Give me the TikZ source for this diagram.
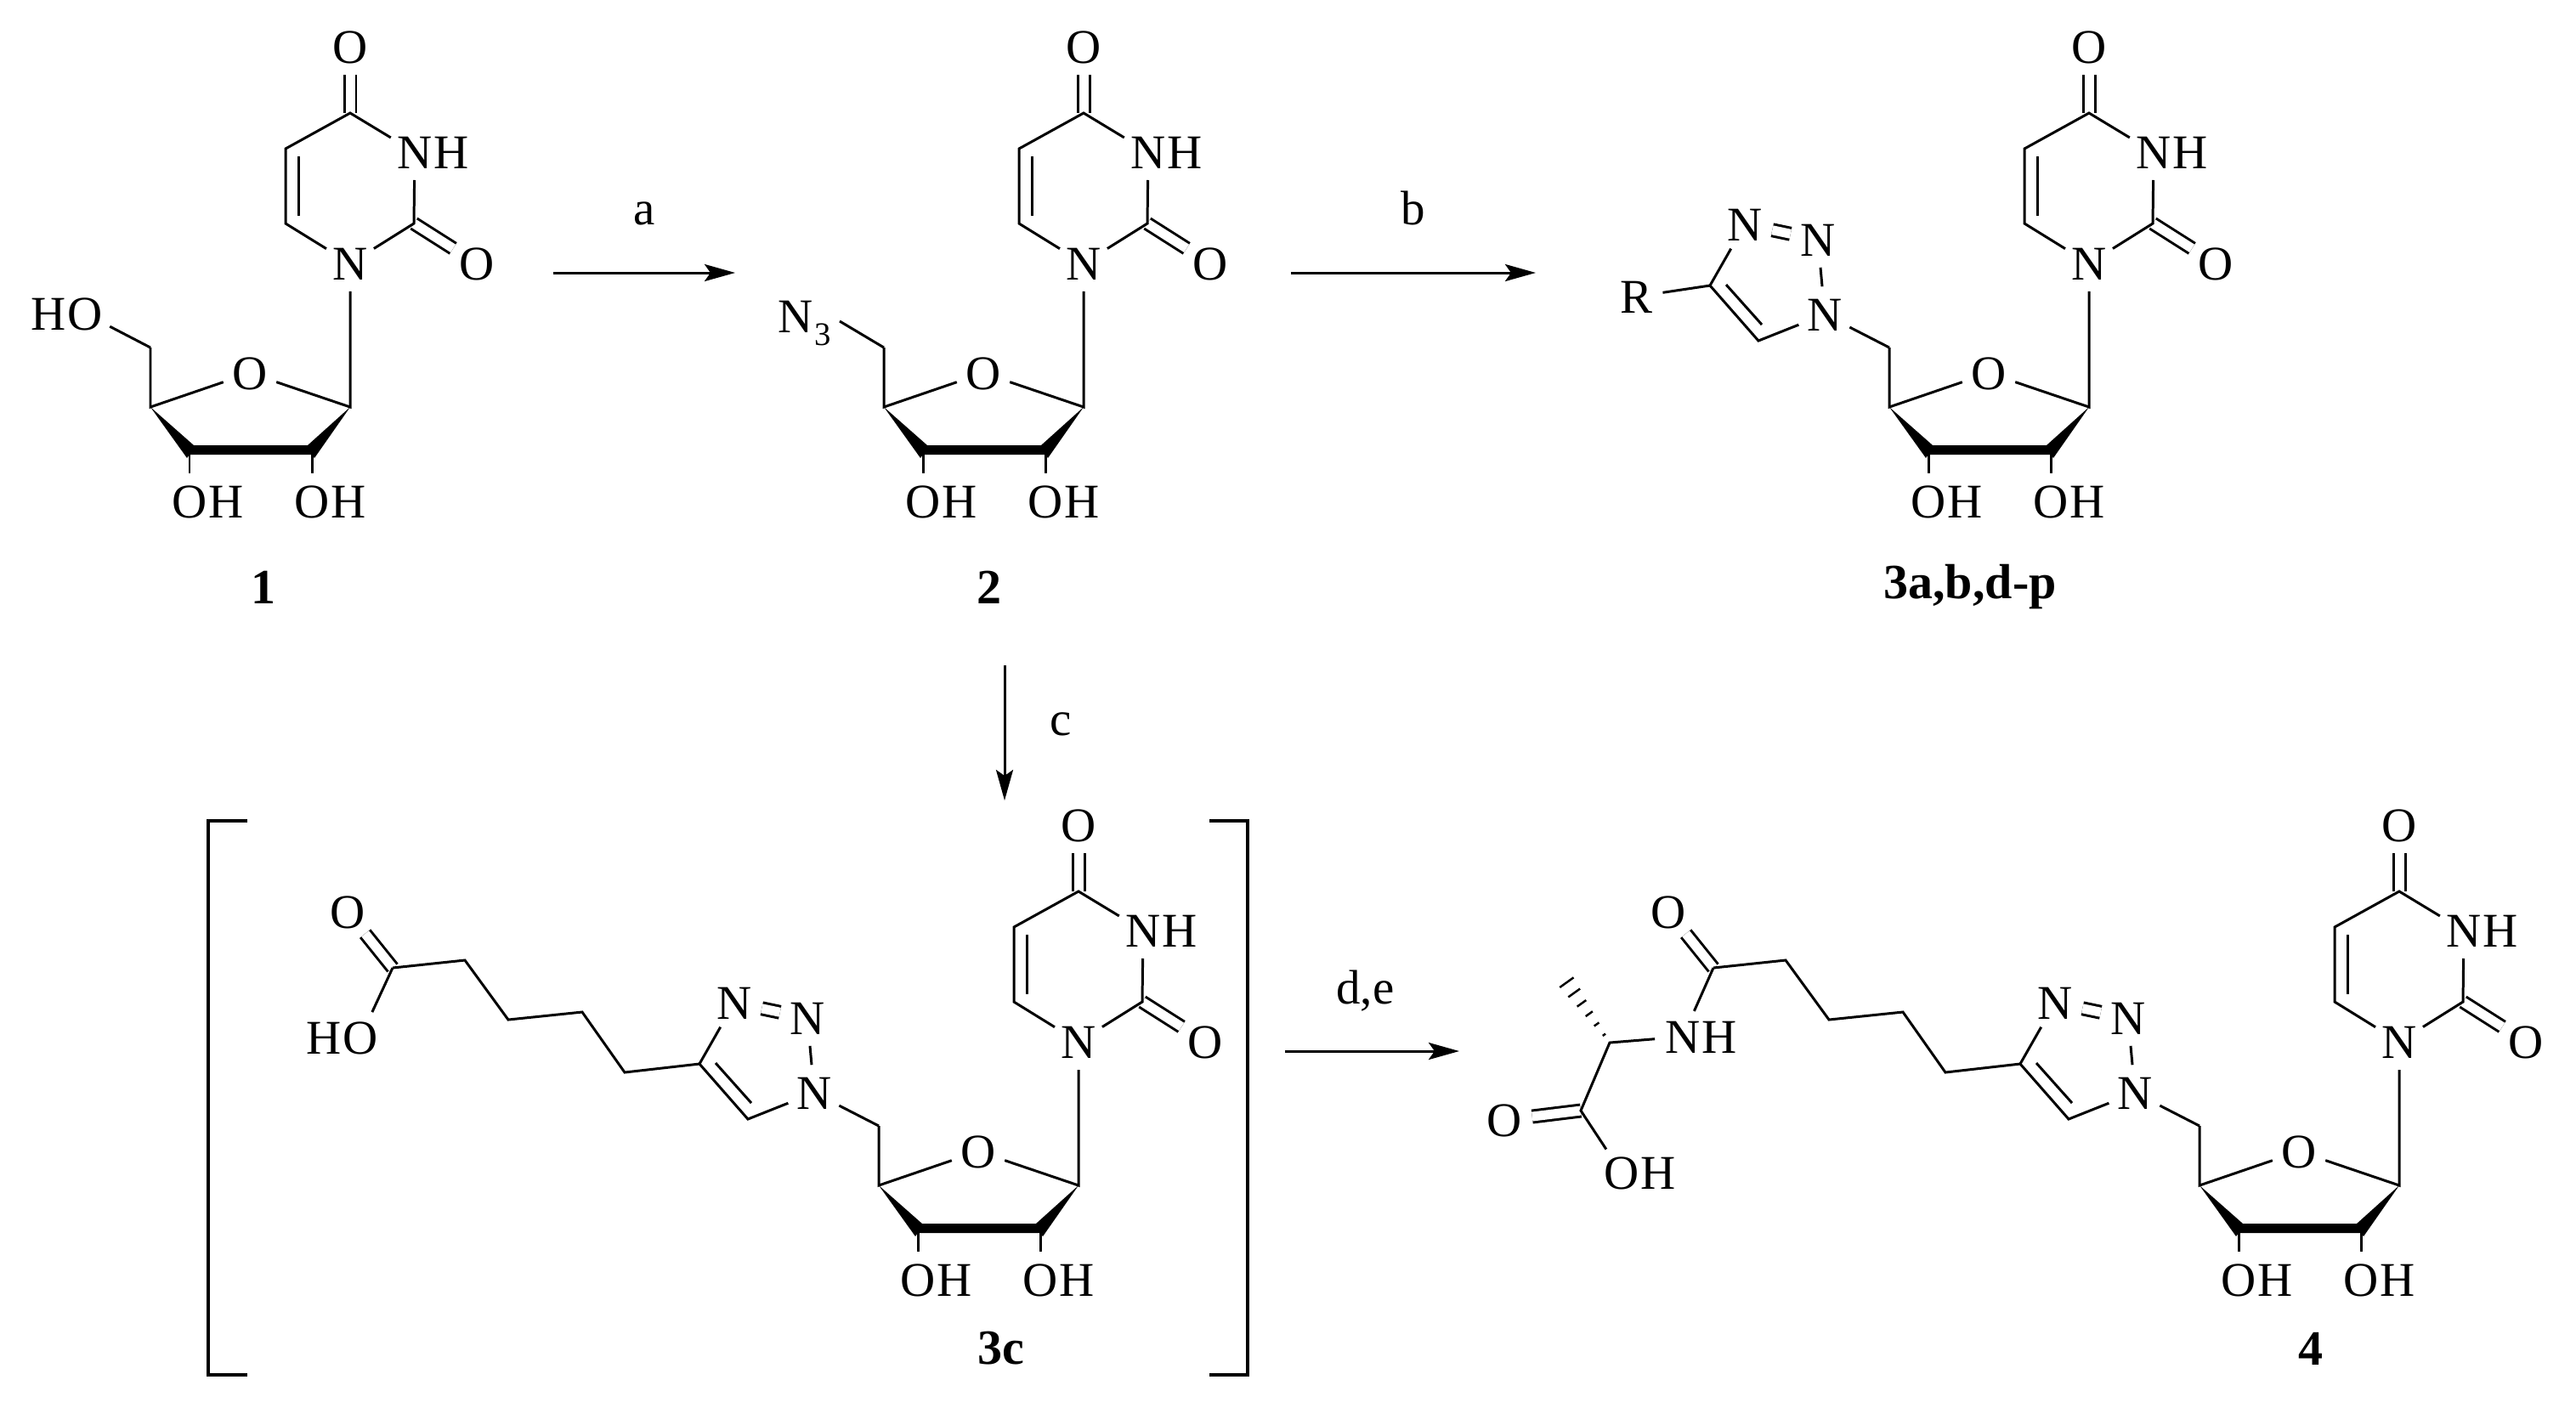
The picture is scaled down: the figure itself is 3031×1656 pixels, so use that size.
\documentclass[tikz,border=0pt]{standalone}
\usepackage{fontspec}
\setmainfont{Liberation Serif}
\usetikzlibrary{positioning,calc,arrows.meta}

\newcommand{\uridine}{
	%Doppelbindungen
	\coordinate (c4) at (0,-346);
	\coordinate (c5) at (-76,-304);
	\coordinate (c6) at (-76,-216);
	\coordinate (c5i) at (-61,-295);
	\coordinate (c6i) at (-61,-225);
	\coordinate (c2) at (75,-216);
	\coordinate (c1p) at (0,0);
	\coordinate (c4p) at (-235,0);
	\coordinate (c3p) at (-189,52);
	\coordinate (c2p) at (-45,52);
	\coordinate (c5p) at (-235,-70);
	\node[atom] (n1) at (0,-169) {N};
	\node[atom] (n3) at (76,-300) {N};
	\node[hatom, right=-0.115cm of n3] (h3) {H};
	\node[atom] (o4) at (0,-424) {O};
	\node[atom] (o2) at (149,-169) {O};
	\node[atom] (o4p) at (-118,-40) {O};
	\node[atom] (o3p) at (-189,111) {O};
	\node[hatom, right=-0.115cm of o3p] (h3p) {H};
	\node[atom] (o2p) at (-45,111) {O};
	\node[hatom, right=-0.115cm of o2p] (h2p) {H};
	\draw[dbond] (c4) -- (o4);
	\draw[dbond] (c2) -- (o2);
	\draw[bond] (n3) -- (c4) -- (c5) -- (c6) -- (n1) -- (c2) -- (n3);
	\draw[bond] (c5i) -- (c6i);
	\draw[bond] (n1) -- (c1p) -- (o4p) -- (c4p) -- (c5p);
	%Keile
	\fill ([shift={(5,-7)}]c3p) -- ([shift={(-5,-7)}]c2p) -- (c1p) -- ([shift={(3,8)}]c2p) -- ([shift={(0,4)}]c2p) -- ([shift={(0,4)}]c3p) -- ([shift={(-3,8)}]c3p) -- (c4p) -- cycle;
	\draw[bond] (c3p) -- (o3p);
	\draw[bond] (c2p) -- (o2p);
}

\newcommand{\triazole}{
	\coordinate (c4t) at (-446,-143);
	\coordinate (c5t) at (-389,-78);
	\coordinate (c4i) at (-427,-144);
	\coordinate (c5i) at (-385,-97);
	\node[atom] (n1t) at (-311,-109) {N};
	\node[atom] (n2t) at (-319,-197) {N};
	\node[atom] (n3t) at (-405,-215) {N};
	\draw[bond] (c5p) -- (n1t) -- (n2t);
	\draw[bond] (n1t) -- (c5t) -- (c4t) -- (n3t);
	\draw[bond] (c4i) -- (c5i);
	\draw[dbond, double distance=0.11cm, yshift=-0.05cm] (n3t) -- (n2t);
}

\newcommand{\pentyl}{
	\coordinate (k1) at (-534,-133);
	\coordinate (k2) at (-584,-204);
	\coordinate (k3) at (-671,-195);
	\coordinate (k4) at (-722,-265);
	\coordinate (k5) at (-807,-256);
	\node[atom] (ok) at (-860,-322) {O};
	\draw[dbond] (k5) -- (ok);
	\draw[bond] (c4t) -- (k1) -- (k2) -- (k3) -- (k4) -- (k5);
}

\begin{document}
\begin{tikzpicture}
	[
	x=0.01cm, y=-0.01cm, font=\fontsize{16.2}{19}\selectfont, >={Stealth[length=0.36cm, width=0.2cm, inset=0.07cm]},
	bond/.style={line width=0.85pt},
	dbond/.style={line width=0.85pt, double, double distance=0.11cm},
	atom/.style={circle, inner sep=0.03cm, text height=10.8pt, text depth=0pt},
	hatom/.style={inner sep=0pt, text height=10.8pt, text depth=0pt},
	rxn/.style={line width=0.85pt, ->},
	cmpd/.style={font=\fontsize{16.5}{19}\selectfont\bfseries, inner sep=0pt},
	cond/.style={inner sep=0pt}
	]
	\useasboundingbox (0,0) rectangle (3031,1656);

	%m1
	\begin{scope}[shift={(412,479)}, name prefix=m1-]
		\uridine
		\node[atom] (o5p) at (-312,-110) {O};
		\node[hatom, left=-0.115cm of o5p] (h5p) {H};
		\draw[bond] (c5p) -- (o5p);
	\end{scope}
	\node[cmpd] (lab1) at (310,691) {1};

	%m2
	\begin{scope}[shift={(1275,479)}, name prefix=m2-]
		\uridine
		\node[hatom, anchor=west] (n5p) at (-360,-107) {N};
		\node[hatom, font=\fontsize{11}{13}\selectfont, text height=7.5pt] (s5p) at (-307,-86) {3};
		\coordinate (n5e) at (-287,-101);
		\draw[bond] (c5p) -- (n5e);
	\end{scope}
	\node[cmpd] (lab2) at (1164,691) {2};

	%m3
	\begin{scope}[shift={(2458,479)}, name prefix=m3-]
		\uridine
		\triazole
		\node[atom] (r) at (-533,-130) {R};
		\draw[bond] (r) -- (c4t);
	\end{scope}
	\node[cmpd] (lab3) at (2318,691) {3a,b,d-p};

	%m3c
	\begin{scope}[shift={(1269,1395)}, name prefix=m3c-]
		\uridine
		\triazole
		\pentyl
		\node[atom] (oh) at (-845,-174) {O};
		\node[hatom, left=-0.115cm of oh] (hh) {H};
		\draw[bond] (k5) -- (oh);
	\end{scope}
	\node[cmpd] (lab3c) at (1178,1587) {3c};

	%m4
	\begin{scope}[shift={(2823,1395)}, name prefix=m4-]
		\uridine
		\triazole
		\pentyl
		\coordinate (ca) at (-929,-168);
		\coordinate (me) at (-984,-245);
		\coordinate (cc) at (-963,-88);
		\node[atom] (nh) at (-843,-175) {N};
		\node[hatom, right=-0.115cm of nh] (hn) {H};
		\node[atom] (oc) at (-1053,-77) {O};
		\node[atom] (oh) at (-915,-15) {O};
		\node[hatom, right=-0.115cm of oh] (hh) {H};
		\draw[dbond] (cc) -- (oc);
		\draw[bond] (k5) -- (nh) -- (ca) -- (cc) -- (oh);
		%Schraffur
		\foreach \t/\w in {0.12/0.02, 0.28/0.035, 0.44/0.05, 0.6/0.065, 0.76/0.085, 0.92/0.1}
			\draw[line width=0.7pt] ($(ca)!\t!(me)!\w cm!90:(me)$) -- ($(ca)!\t!(me)!\w cm!-90:(me)$);
	\end{scope}
	\node[cmpd] (lab4) at (2719,1587) {4};

	%Klammern
	\draw[line width=1pt] (291,966) -- (245,966) -- (245,1618) -- (291,1618);
	\draw[line width=1pt] (1423,966) -- (1468,966) -- (1468,1618) -- (1423,1618);

	%Pfeile
	\coordinate (a1) at (651,321);
	\coordinate (a2) at (865,321);
	\coordinate (b1) at (1519,321);
	\coordinate (b2) at (1807,321);
	\coordinate (c1) at (1182,783);
	\coordinate (c2) at (1182,942);
	\coordinate (d1) at (1512,1237);
	\coordinate (d2) at (1717,1237);
	\draw[rxn] (a1) -- (a2) node[cond, midway, anchor=base, yshift=0.56cm] (laba) {a};
	\draw[rxn] (b1) -- (b2) node[cond, midway, anchor=base, yshift=0.56cm] (labb) {b};
	\draw[rxn] (c1) -- (c2) node[cond, midway, anchor=west, xshift=0.52cm, yshift=0.1cm] (labc) {c};
	\draw[rxn] (d1) -- (d2) node[cond, midway, anchor=base, xshift=-0.08cm, yshift=0.56cm] (labd) {d,e};
\end{tikzpicture}
\end{document}
